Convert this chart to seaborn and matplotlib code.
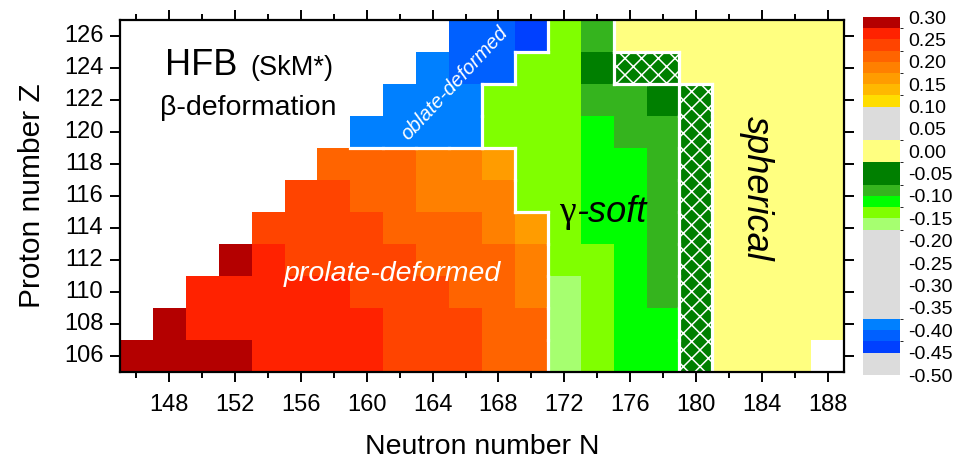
import numpy as np
import pandas as pd
import matplotlib
matplotlib.use("Agg")
import matplotlib.pyplot as plt
import seaborn as sns
from matplotlib.colors import ListedColormap, BoundaryNorm
from matplotlib.patches import Rectangle
from matplotlib.collections import LineCollection

sns.set_style("ticks")
plt.rcParams["font.family"] = ["Liberation Sans", "DejaVu Sans"]
plt.rcParams["axes.unicode_minus"] = False
plt.rcParams["hatch.linewidth"] = 1.1
for k in ("text.color", "axes.labelcolor", "xtick.color", "ytick.color"):
    plt.rcParams[k] = "black"

# ---------------- data ----------------
N_values = list(range(146, 189, 2))        # neutron numbers (columns)
Z_values = list(range(126, 105, -2))       # proton numbers (rows, top -> bottom)
nan = np.nan

beta_Z126 = [nan]*10 + [-0.41, -0.41, -0.44, -0.14, -0.09, 0, 0, 0, 0, 0, 0, 0]
beta_Z124 = [nan]*9 + [-0.39, -0.41, -0.41, -0.14, -0.14, -0.05, -0.05, -0.05, 0, 0, 0, 0, 0]
beta_Z122 = [nan]*8 + [-0.39, -0.39, -0.39, -0.14, -0.14, -0.14, -0.09, -0.09, -0.05, -0.05, 0, 0, 0, 0]
beta_Z120 = [nan]*7 + [-0.39, -0.39, -0.39, -0.39, -0.14, -0.14, -0.14, -0.11, -0.09, -0.09, -0.05, 0, 0, 0, 0]
beta_Z118 = [nan]*6 + [0.21, 0.21, 0.21, 0.19, 0.19, 0.16, -0.14, -0.14, -0.11, -0.11, -0.09, -0.05, 0, 0, 0, 0]
beta_Z116 = [nan]*5 + [0.24, 0.24, 0.21, 0.21, 0.19, 0.19, 0.19, -0.14, -0.14, -0.11, -0.11, -0.09, -0.05, 0, 0, 0, 0]
beta_Z114 = [nan]*4 + [0.24, 0.24, 0.24, 0.24, 0.21, 0.21, 0.21, 0.19, 0.16, -0.14, -0.11, -0.11, -0.09, -0.05, 0, 0, 0, 0]
beta_Z112 = [nan]*3 + [0.29, 0.26, 0.24, 0.24, 0.24, 0.24, 0.21, 0.21, 0.21, 0.19, -0.14, -0.14, -0.11, -0.09, -0.05, 0, 0, 0, 0]
beta_Z110 = [nan]*2 + [0.26, 0.26, 0.26, 0.26, 0.26, 0.24, 0.24, 0.24, 0.21, 0.21, 0.19, -0.16, -0.14, -0.11, -0.09, -0.05, 0, 0, 0, 0]
beta_Z108 = [nan] + [0.29, 0.26, 0.26, 0.26, 0.26, 0.26, 0.26, 0.24, 0.24, 0.24, 0.21, 0.21, -0.16, -0.14, -0.11, -0.11, -0.05, 0, 0, 0, 0]
beta_Z106 = [0.29, 0.29, 0.29, 0.29, 0.26, 0.26, 0.26, 0.26, 0.24, 0.24, 0.24, 0.21, 0.21, -0.16, -0.14, -0.11, -0.11, -0.05, 0, 0, 0, nan]

# cells drawn hatched (N, Z)
hatched_cells = [(176, 124), (178, 124)] + [(180, z) for z in (122, 120, 118, 116, 114, 112, 110, 108, 106)]

# colour scale
level_bounds = [-0.50, -0.45, -0.425, -0.40, -0.375, -0.175, -0.15, -0.125, -0.10, -0.075,
                -0.025, 0.025, 0.10, 0.125, 0.15, 0.175, 0.20, 0.225, 0.25, 0.275, 0.30]
level_colors = ["#DCDCDC", "#0040FF", "#0060FF", "#0080FF", "#DCDCDC", "#A6FF70", "#80FF00",
                "#00FF00", "#35B41E", "#007F00", "#FFFF80", "#DCDCDC", "#FFDD00", "#FFB800",
                "#FF9C00", "#FF8000", "#FF6400", "#FF4400", "#FF2200", "#B40000"]
cbar_ticks = [-0.50, -0.45, -0.40, -0.35, -0.30, -0.25, -0.20, -0.15, -0.10, -0.05,
              0.00, 0.05, 0.10, 0.15, 0.20, 0.25, 0.30]

major_N = [148, 152, 156, 160, 164, 168, 172, 176, 180, 184, 188]
minor_N = [146, 150, 154, 158, 162, 166, 170, 174, 178, 182, 186]
tick_Z = [106, 108, 110, 112, 114, 116, 118, 120, 122, 124, 126]

# ---------------- figure ----------------
df = pd.DataFrame([beta_Z126, beta_Z124, beta_Z122, beta_Z120, beta_Z118, beta_Z116,
                   beta_Z114, beta_Z112, beta_Z110, beta_Z108, beta_Z106],
                  index=Z_values, columns=N_values)

cmap = ListedColormap(level_colors)
norm = BoundaryNorm(level_bounds, cmap.N)

fig = plt.figure(figsize=(9.6, 4.62), dpi=100)
ax = fig.add_axes([120/960, 1-372/462, 724/960, 352/462])
cax = fig.add_axes([863/960, 1-375/462, 37/960, 358/462])

sns.heatmap(df, ax=ax, cbar_ax=cax, cmap=cmap, norm=norm, linewidths=0,
            cbar_kws=dict(spacing="proportional", ticks=cbar_ticks))

# coordinate helpers: heatmap column j spans N-1..N+1
def xN(n):
    return (n - 145) / 2.0

def yZ(z):
    return (127 - z) / 2.0

# hatched cells
for n, z in hatched_cells:
    j = N_values.index(n)
    r = Z_values.index(z)
    ax.add_patch(Rectangle((j, r), 1, 1, facecolor="#007F00", edgecolor="white",
                           hatch="xx", lw=0, zorder=4))

# region boundaries (white lines) derived from data
vals = df.values
hset = set(hatched_cells)
def region(r, j):
    v = vals[r, j]
    if np.isnan(v):
        return None
    if (N_values[j], Z_values[r]) in hset:
        return "hatch"
    if abs(v) <= 0.025:
        return "sph"
    if v > 0.05:
        return "pro"
    if v < -0.3:
        return "obl"
    return "soft"

segs = []
nr, nc = vals.shape
for r in range(nr):
    for j in range(nc):
        a = region(r, j)
        if a is None:
            continue
        if j + 1 < nc:
            b = region(r, j + 1)
            if b is not None and b != a:
                segs.append([(j + 1, r), (j + 1, r + 1)])
        if r + 1 < nr:
            b = region(r + 1, j)
            if b is not None and b != a:
                segs.append([(j, r + 1), (j + 1, r + 1)])
ax.add_collection(LineCollection(segs, colors="white", linewidths=2.3,
                                 capstyle="projecting", zorder=5))

# axes styling
ax.set_xlim(0, len(N_values))
ax.set_ylim(len(Z_values), 0)
for s in ax.spines.values():
    s.set_visible(True)
    s.set_linewidth(1.6)
    s.set_color("black")
    s.set_zorder(6)
ax.set_xticks([xN(n) for n in major_N])
ax.set_xticklabels([str(n) for n in major_N], rotation=0)
ax.set_xticks([xN(n) for n in minor_N], minor=True)
ax.set_yticks([yZ(z) for z in tick_Z])
ax.set_yticklabels([str(z) for z in tick_Z], rotation=0)
ax.tick_params(which="both", direction="out", top=True, right=True,
               labeltop=False, labelright=False, width=1.4, color="black")
ax.tick_params(which="major", length=7, labelsize=17)
ax.tick_params(axis="x", which="major", pad=9)
ax.tick_params(axis="y", which="major", pad=5)
ax.tick_params(which="minor", length=4)
ax.set_xlabel("Neutron number N", fontsize=20.5, labelpad=13)
ax.set_ylabel("Proton number Z", fontsize=21.5, labelpad=13)

# colorbar styling
cbar = ax.collections[0].colorbar
cbar.ax.tick_params(length=0, labelsize=14, pad=6)
cbar.set_ticks(cbar_ticks)
cbar.set_ticklabels([f"{t:.2f}" for t in cbar_ticks])
cbar.outline.set_visible(False)

# annotations
ax.text(1.37, 1.72, "HFB", fontsize=26, ha="left", va="baseline")
ax.text(3.95, 1.72, "(SkM*)", fontsize=19.5, ha="left", va="baseline")
ax.text(1.22, 2.97, "β-deformation", fontsize=20.5, ha="left", va="baseline")
ax.text(10.18, 1.97, "oblate-deformed", fontsize=14.5, style="italic", color="white",
        rotation=47, ha="center", va="center", zorder=7)
ax.text(8.27, 7.94, "prolate-deformed", fontsize=20.5, style="italic", color="white",
        ha="center", va="center", zorder=7)
g = ax.text(13.35, 6.03, "γ", fontsize=27, family="Liberation Serif", color="black",
            ha="left", va="center", zorder=7)
ax.annotate("-soft", xy=(1.0, 0.0), xycoords=g, fontsize=26, style="italic",
            color="black", ha="left", va="bottom", zorder=7)
ax.text(19.33, 5.25, "spherical", fontsize=26, style="italic", color="black",
        rotation=-90, ha="center", va="center", zorder=7)

fig.savefig("out.png", dpi=100)
